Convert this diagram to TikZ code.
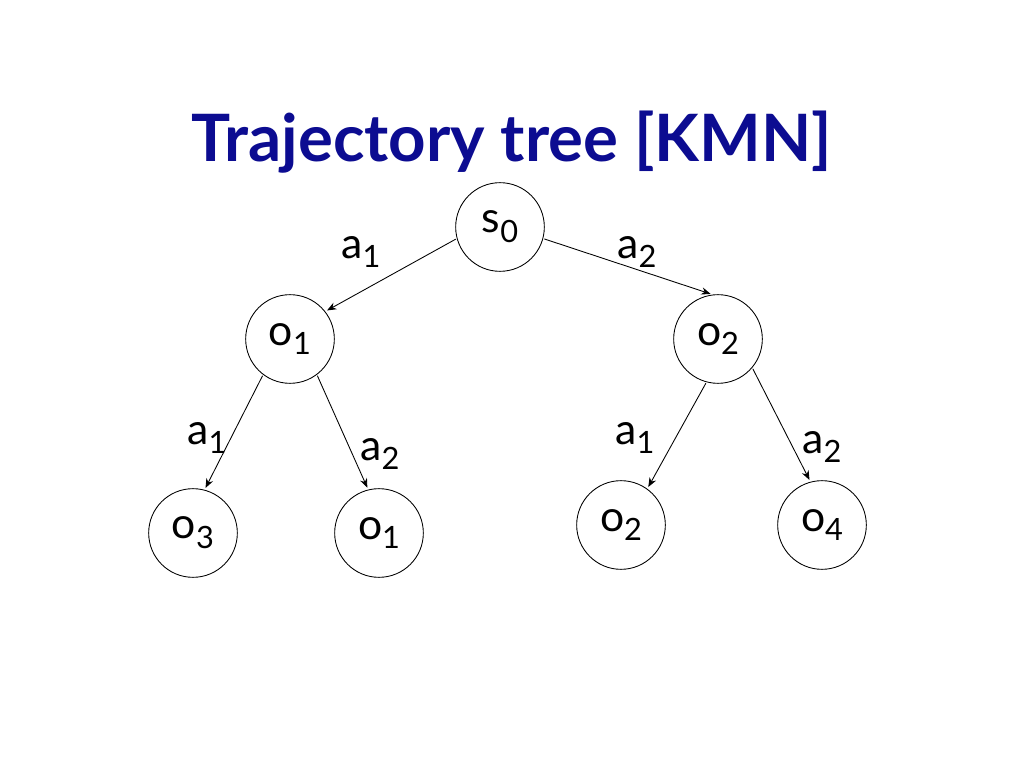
\documentclass[tikz,border=0pt]{standalone}
\usepackage{fontspec}
\setmainfont{Lato}
\usetikzlibrary{arrows.meta}
\definecolor{titleblue}{RGB}{12,12,145}
\newcommand{\lowidx}[1]{\raisebox{-0.23em}{\scalebox{0.72}{#1}}}
\begin{document}
\begin{tikzpicture}[line join = round, line cap = round,>={Stealth[length=7pt,width=5.5pt]},x=0.75pt,y=0.75pt,
	treenode/.style={circle,draw,line width=0.65pt,minimum size=66.5pt,inner sep=0pt,font=\fontsize{32}{36}\selectfont},
	actlabel/.style={inner sep=0pt,font=\fontsize{32}{36}\selectfont}]
	\fill[white] (0,0) rectangle (1024,768);
	\useasboundingbox (0,0) rectangle (1024,768);
	\node[anchor=base,text=titleblue,font=\fontsize{49}{56}\selectfont\bfseries] (T) at (512,606) {Trajectory tree [KMN]};
	\path
	(500,541) node[treenode](S){s\lowidx{0}}
	(290,429) node[treenode](O1){o\lowidx{1}}
	(718,429) node[treenode](O2){o\lowidx{2}}
	(193,235) node[treenode](O3){o\lowidx{3}}
	(379,235) node[treenode](O1b){o\lowidx{1}}
	(621,243) node[treenode](O2b){o\lowidx{2}}
	(822,243) node[treenode](O4){o\lowidx{4}}
	;
	\foreach \p/\q in{S.195/O1.38,S.345/O2.97,O1.233/O3.75,O1.307/O1b.104,O2.255/O2b.54,O2.320/O4.105}\draw[->,line width=0.65pt,shorten <=1pt,shorten >=1.5pt](\p)--(\q);
	\foreach \n/\x/\y/\t in{1/361/516/1,2/637/516/2,3/207/330/1,4/380/314/2,5/635/330/1,6/822/321/2}\node[actlabel](L\n) at (\x,\y){a\lowidx{\t}};
\end{tikzpicture}
\end{document}
